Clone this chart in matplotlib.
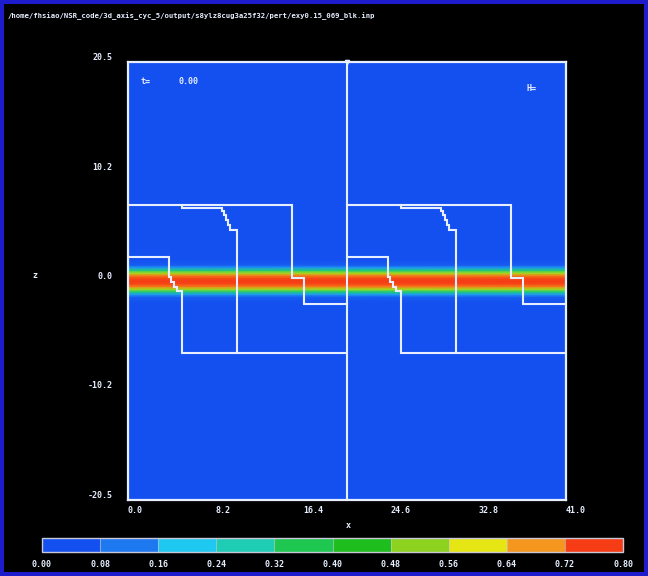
import numpy as np
import matplotlib
matplotlib.use("Agg")
import matplotlib.pyplot as plt
from matplotlib.colors import ListedColormap, LinearSegmentedColormap, BoundaryNorm
from matplotlib.patches import Rectangle

# domain
x_min, x_max = 0.0, 41.0
z_min, z_max = -20.5, 20.5
period = 20.5

# concentration profile across the layer
prof_z = [-2.5, -2.0, -1.5, -1.25, -1.0, -0.75, -0.5, -0.25, 0.0, 0.25, 0.5, 0.75, 1.0, 1.25, 1.5, 2.0, 2.5]
prof_c = [0.0, 0.0, 0.03, 0.13, 0.32, 0.56, 0.74, 0.79, 0.80, 0.79, 0.74, 0.56, 0.32, 0.13, 0.03, 0.0, 0.0]

# white interface lines of one period (data coords)
line1_x = [0.0, 15.36, 15.36, 16.48, 16.48, 20.5]
line1_y = [7.12, 7.12, 0.28, 0.28, -2.15, -2.15]
line2_x = [5.06, 5.06, 8.77, 8.77, 8.94, 8.94, 9.18, 9.18, 9.36, 9.36, 9.55, 9.55, 10.21, 10.21]
line2_y = [7.12, 6.84, 6.84, 6.55, 6.55, 6.18, 6.18, 5.71, 5.71, 5.24, 5.24, 4.78, 4.78, -6.74]
line3_x = [0.0, 3.84, 3.84, 4.03, 4.03, 4.26, 4.26, 4.59, 4.59, 5.06, 5.06, 20.5]
line3_y = [2.25, 2.25, 0.37, 0.37, -0.09, -0.09, -0.56, -0.56, -0.98, -0.98, -6.74, -6.74]

x_ticks = [0.0, 8.2, 16.4, 24.6, 32.8, 41.0]
z_ticks = [-20.5, -10.2, 0.0, 10.2, 20.5]
c_levels = [0.00, 0.08, 0.16, 0.24, 0.32, 0.40, 0.48, 0.56, 0.64, 0.72, 0.80]
c_colors = ['#1450f0', '#1e78f0', '#1ec8f0', '#1ecdb4', '#1ec850', '#1ebe1e',
            '#8cd21e', '#e6e614', '#f5961e', '#f53c14']

title = "/home/fhsiao/NSR_code/3d_axis_cyc_5/output/s8ylz8cug3a25f32/pert/exy0.15_069_blk.inp"

fg = '#e6eeff'
font = dict(family='DejaVu Sans Mono', weight='bold', color=fg)

fig = plt.figure(figsize=(6.48, 5.76), dpi=100, facecolor='#1c1ccc')
fig.patches.append(Rectangle((4 / 648, 4 / 576), 1 - 8 / 648, 1 - 8 / 576,
                             transform=fig.transFigure, facecolor='black',
                             edgecolor='none', zorder=-10))

ax = fig.add_axes([128 / 648, 1 - 500 / 576, 438 / 648, 438 / 576])
ax.set_facecolor('black')

field_cmap = LinearSegmentedColormap.from_list('field', c_colors)
# field: pad profile with zeros out to the domain edges
zz = np.array([z_min] + prof_z + [z_max])
cc = np.array([0.0] + prof_c + [0.0])
X, Z = np.meshgrid([x_min, x_max], zz)
C = np.tile(cc[:, None], (1, 2))
ax.pcolormesh(X, Z, C, shading='gouraud', cmap=field_cmap, vmin=0, vmax=0.8)

for k in range(2):
    off = k * period
    for lx, ly in [(line1_x, line1_y), (line2_x, line2_y), (line3_x, line3_y)]:
        ax.plot(np.array(lx) + off, ly, color=fg, lw=1.5, solid_joinstyle='miter')
ax.axvline(period, color=fg, lw=1.5)
# little notch where the divider meets the top frame
ax.plot([period], [z_max], marker='v', color=fg, ms=3, clip_on=False)

ax.set_xlim(x_min, x_max)
ax.set_ylim(z_min, z_max)
for sp in ax.spines.values():
    sp.set_color(fg)
    sp.set_linewidth(1.6)

ax.set_xticks(x_ticks)
ax.set_xticklabels(["%.1f" % v for v in x_ticks])
ax.set_yticks(z_ticks)
ax.set_yticklabels(["%.1f" % v for v in z_ticks])
ax.tick_params(length=0, labelsize=6, colors=fg, pad=4)
plt.setp(ax.get_xticklabels(), ha='left', family='DejaVu Sans Mono', weight='bold')
plt.setp(ax.get_yticklabels(), va='bottom', family='DejaVu Sans Mono', weight='bold')
ax.tick_params(axis='y', pad=11)

ax.text(0.04, 0.955, "t=", transform=ax.transAxes, fontsize=6, ha='center', va='center', **font)
ax.text(0.137, 0.955, "0.00", transform=ax.transAxes, fontsize=6, ha='center', va='center', **font)
ax.text(0.922, 0.94, "H=", transform=ax.transAxes, fontsize=6, ha='center', va='center', **font)

fig.text(348 / 648, 1 - 526 / 576, "x", fontsize=6, ha='center', va='center', **font)
fig.text(35 / 648, 1 - 275 / 576, "z", fontsize=6, ha='center', va='center', **font)
fig.text(8 / 648, 1 - 16 / 576, title, fontsize=5.2, ha='left', va='center', **font)

# colour bar
cax = fig.add_axes([42 / 648, 1 - 552 / 576, 581 / 648, 14 / 576])
cmap = ListedColormap(c_colors)
norm = BoundaryNorm(c_levels, cmap.N)
cb = fig.colorbar(plt.cm.ScalarMappable(norm=norm, cmap=cmap), cax=cax,
                  orientation='horizontal', drawedges=True)
cb.outline.set_edgecolor('#c8c8d8')
cb.outline.set_linewidth(1.0)
cb.dividers.set_color('#c8c8d8')
cb.dividers.set_alpha(0.6)
cb.dividers.set_linewidth(0.8)
cb.set_ticks(c_levels)
cb.set_ticklabels(["%.2f" % v for v in c_levels])
cax.tick_params(length=0, labelsize=6, colors=fg, pad=6)
plt.setp(cax.get_xticklabels(), family='DejaVu Sans Mono', weight='bold')

fig.savefig("out.png", dpi=100, facecolor=fig.get_facecolor())
